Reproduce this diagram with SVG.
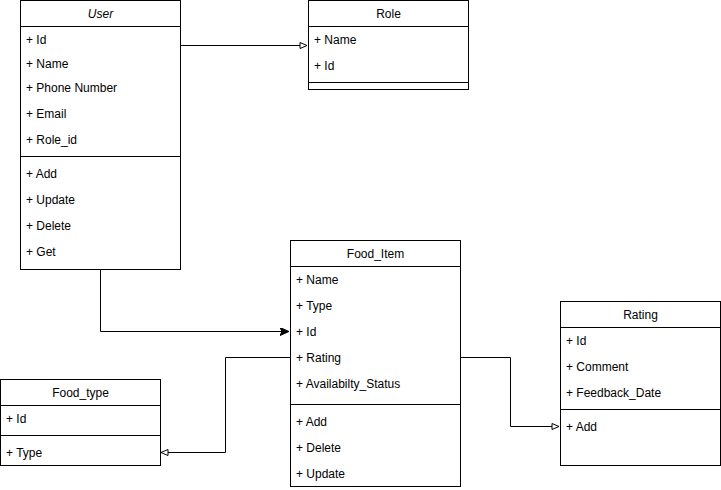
<svg xmlns="http://www.w3.org/2000/svg" width="721" height="490" viewBox="0 0 721 490">
<style>
.box{fill:#fff;stroke:#000;stroke-width:1}
.ln{stroke:#000;stroke-width:1;fill:none}
text{font-family:"Liberation Sans",Arial,sans-serif;font-size:12px;fill:#000}
.h{text-anchor:middle}
.e{stroke:#000;stroke-width:1;fill:none}
</style>
<defs>
<marker id="open" markerWidth="10" markerHeight="10" refX="8" refY="4" orient="auto" markerUnits="userSpaceOnUse">
<path d="M1,1 L8,4 L1,7 Z" fill="#fff" stroke="#000" stroke-width="1"/>
</marker>
<marker id="block" markerWidth="12" markerHeight="10" refX="9" refY="4" orient="auto" markerUnits="userSpaceOnUse">
<path d="M0,0 L9,4 L0,8 L2,4 Z" fill="#000" stroke="#000" stroke-width="1"/>
</marker>
</defs>
<g id="connectors">
<path class="e" d="M180.5,45.5 H307" marker-end="url(#open)"/>
<path class="e" d="M100.5,270 V331.5 H289" marker-end="url(#block)"/>
<path class="e" d="M290,357.5 H225.5 V452.5 H161" marker-end="url(#open)"/>
<path class="e" d="M461,357.5 H510.5 V426.5 H559" marker-end="url(#open)"/>
</g>
<g id="User">
<rect class="box" x="20.5" y="0.5" width="160" height="269"/>
<line class="ln" x1="20.5" y1="26.5" x2="180.5" y2="26.5"/>
<line class="ln" x1="20.5" y1="156.5" x2="180.5" y2="156.5"/>
<text class="h" x="100.5" y="18" font-style="italic">User</text>
<text x="26" y="44">+ Id</text>
<text x="26" y="68">+ Name</text>
<text x="26" y="92">+ Phone Number</text>
<text x="26" y="118">+ Email</text>
<text x="26" y="144">+ Role_id</text>
<text x="26" y="178">+ Add</text>
<text x="26" y="204">+ Update</text>
<text x="26" y="230">+ Delete</text>
<text x="26" y="256">+ Get</text>
</g>
<g id="Role">
<rect class="box" x="308.5" y="0.5" width="160" height="89"/>
<line class="ln" x1="308.5" y1="26.5" x2="468.5" y2="26.5"/>
<line class="ln" x1="308.5" y1="82.5" x2="468.5" y2="82.5"/>
<text class="h" x="388.5" y="18">Role</text>
<text x="314" y="44">+ Name</text>
<text x="314" y="70">+ Id</text>
</g>
<g id="Food_Item">
<rect class="box" x="290.5" y="240.5" width="170" height="246"/>
<line class="ln" x1="290.5" y1="266.5" x2="460.5" y2="266.5"/>
<line class="ln" x1="290.5" y1="404.5" x2="460.5" y2="404.5"/>
<text class="h" x="375.5" y="258">Food_Item</text>
<text x="296" y="284">+ Name</text>
<text x="296" y="310">+ Type</text>
<text x="296" y="336">+ Id</text>
<text x="296" y="362">+ Rating</text>
<text x="296" y="388">+ Availabilty_Status</text>
<text x="296" y="426">+ Add</text>
<text x="296" y="452">+ Delete</text>
<text x="296" y="478">+ Update</text>
</g>
<g id="Food_type">
<rect class="box" x="0.5" y="379.5" width="160" height="86"/>
<line class="ln" x1="0.5" y1="405.5" x2="160.5" y2="405.5"/>
<line class="ln" x1="0.5" y1="435.5" x2="160.5" y2="435.5"/>
<text class="h" x="80.5" y="397">Food_type</text>
<text x="6" y="423">+ Id</text>
<text x="6" y="457">+ Type</text>
</g>
<g id="Rating">
<rect class="box" x="560.5" y="301.5" width="160" height="164"/>
<line class="ln" x1="560.5" y1="327.5" x2="720.5" y2="327.5"/>
<line class="ln" x1="560.5" y1="409.5" x2="720.5" y2="409.5"/>
<text class="h" x="640.5" y="319">Rating</text>
<text x="566" y="345">+ Id</text>
<text x="566" y="371">+ Comment</text>
<text x="566" y="397">+ Feedback_Date</text>
<text x="566" y="431">+ Add</text>
</g>
</svg>
